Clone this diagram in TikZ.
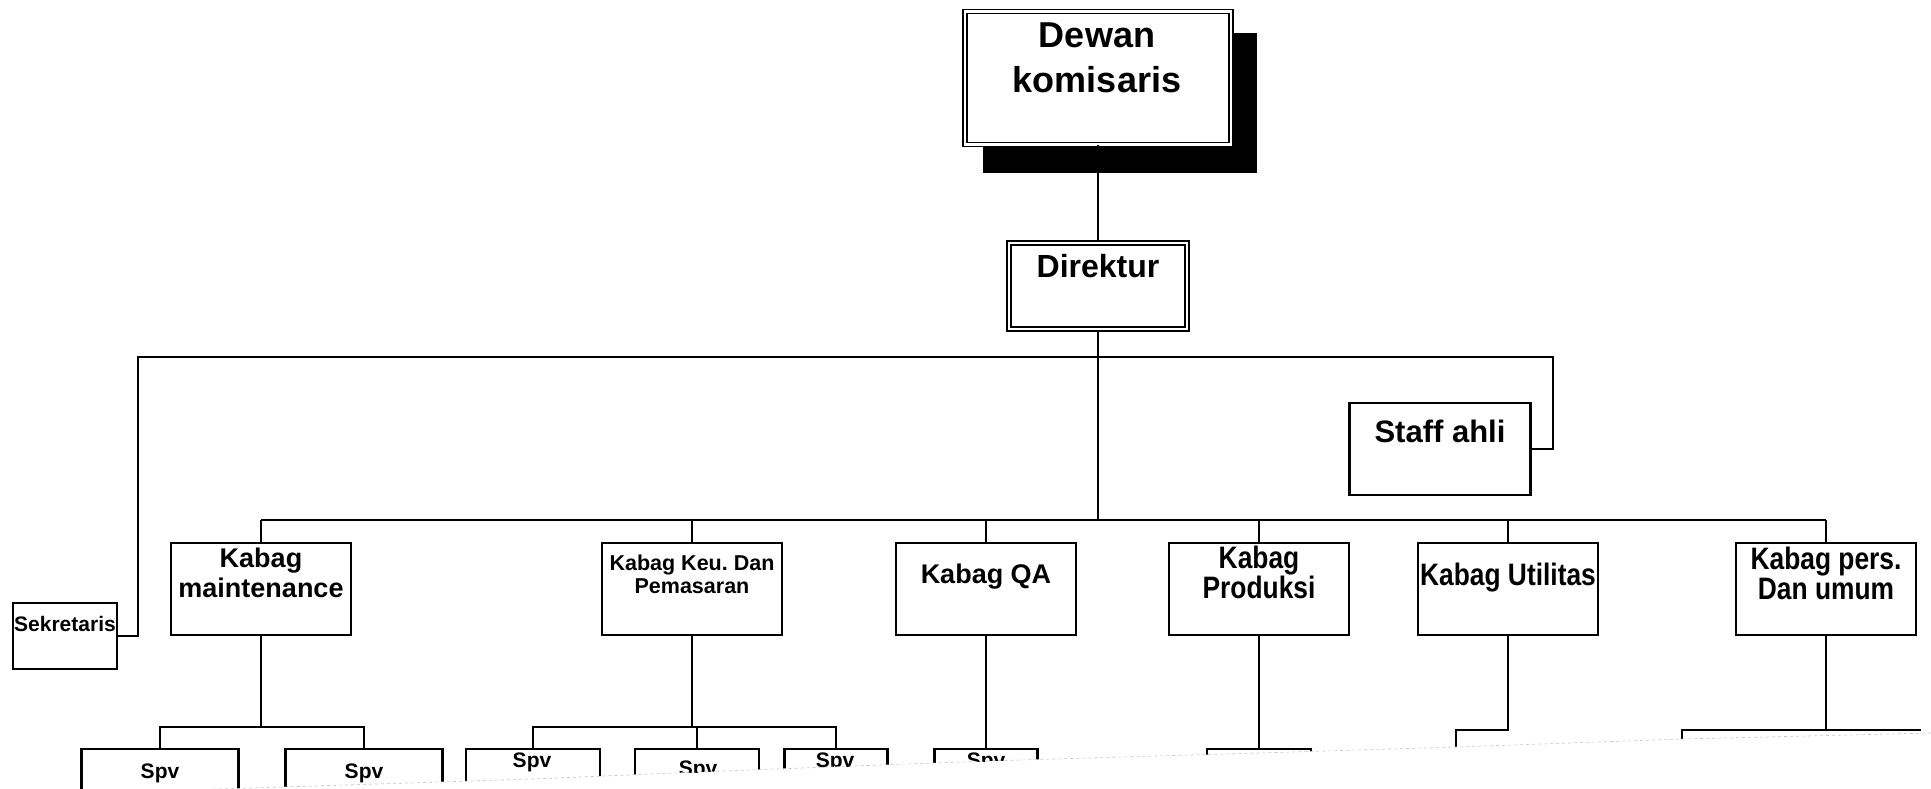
\documentclass[tikz,border=0pt]{standalone}
\usepackage{fontspec}
\setmainfont{Liberation Sans}
\newfontfamily\narrowsans[FakeStretch=0.85]{Liberation Sans}
\usetikzlibrary{calc,positioning}
\tikzset{Box/.style={draw,fill=white,line width=2.1pt,inner sep=0pt,minimum width=180pt,minimum height=92pt}}
\tikzset{Dbox/.style={draw,fill=white,double,double distance=2.5pt,line width=1.4pt,inner sep=0pt}}
\tikzset{Spv/.style={Box,minimum width=#1,minimum height=80pt}}
\tikzset{Txt/.style 2 args={anchor=north,inner sep=0pt,align=center,font=\bfseries\fontsize{#1}{#2}\selectfont}}
\tikzset{NTxt/.style 2 args={anchor=north,inner sep=0pt,align=center,font=\narrowsans\bfseries\fontsize{#1}{#2}\selectfont}}

\begin{document}
\begin{tikzpicture}[x=1pt,y=-1pt,line width=2.1pt]
            \useasboundingbox (0,0) rectangle (1931,789);
            \begin{scope}
            \clip (0,0) -- (1931,0) -- (1931,733) -- (1682,739) -- (1456,747) -- (1259,753) -- (986,761) -- (698,772) -- (533,779) -- (0,796) -- cycle;
            \node[fill=black,inner sep=0pt,minimum width=274pt,minimum height=140pt] (komsh) at (1120,103) {};
            \node[Dbox,minimum width=266pt,minimum height=133pt] (kom) at (1098,78) {};
            \node[Txt={36}{45}] (komt) at (1097,22) {Dewan\\komisaris};
            \node[Dbox,minimum width=178pt,minimum height=86pt] (dir) at (1098,286) {};
            \node[Txt={32}{36}] (dirt) at (1098,253) {Direktur};
            \node[Box,minimum width=104pt,minimum height=66pt] (sek) at (65,636) {};
            \node[Txt={21}{24}] (sekt) at (65,615) {Sekretaris};
            \node[Box,minimum width=181pt] (staf) at (1440,449) {};
            \node[Txt={31}{34}] (staft) at (1440,419) {Staff ahli};
            \coordinate (bl) at (138,357);
            \coordinate (br) at (1553,357);
            \coordinate (jk) at (1098,520);
            \draw[-] (kom.south) -- (dir.north);
            \draw[-] (dir.south) -- (jk);
            \draw[-] (sek.east) -| (bl) -- (br) |- (staf.east);
            \node[Box] (k1) at (261,589) {};
            \node[Box] (k2) at (692,589) {};
            \node[Box] (k3) at (986,589) {};
            \node[Box] (k4) at (1259,589) {};
            \node[Box] (k5) at (1508,589) {};
            \node[Box] (k6) at (1826,589) {};
            \node[Txt={27}{30}] (k1t) at (261,547) {Kabag\\maintenance};
            \node[Txt={21.5}{23}] (k2t) at (692,554) {Kabag Keu.\ Dan\\Pemasaran};
            \node[Txt={27}{30}] (k3t) at (986,563) {Kabag QA};
            \node[NTxt={31}{30}] (k4t) at (1259,545) {Kabag\\Produksi};
            \node[NTxt={31}{30}] (k5t) at (1508,562) {Kabag Utilitas};
            \node[NTxt={31}{30}] (k6t) at (1826,546) {Kabag pers.\\Dan umum};
            \draw[-] (k1.north |- jk) -- (k6.north |- jk);
            \draw[-] (k1.north |- jk) -- (k1.north);
            \draw[-] (k2.north |- jk) -- (k2.north);
            \draw[-] (k3.north |- jk) -- (k3.north);
            \draw[-] (k4.north |- jk) -- (k4.north);
            \draw[-] (k5.north |- jk) -- (k5.north);
            \draw[-] (k6.north |- jk) -- (k6.north);
            \node[Spv=157pt] (s11) at (160,789) {};
            \node[Spv=157pt] (s12) at (364,789) {};
            \node[Spv=134pt] (s21) at (533,789) {};
            \node[Spv=124pt] (s22) at (697,789) {};
            \node[Spv=103pt] (s23) at (836,789) {};
            \node[Spv=103pt] (s31) at (986,789) {};
            \node[Spv=104pt] (s41) at (1259,789) {};
            \node[Txt={21}{24}] (s11t) at (160,763) {Spv};
            \node[Txt={21}{24}] (s12t) at (364,763) {Spv};
            \node[Txt={21}{24}] (s21t) at (532,752) {Spv};
            \node[Txt={21}{24}] (s22t) at (698,760) {Spv};
            \node[Txt={21}{24}] (s23t) at (835,752) {Spv};
            \node[Txt={21}{24}] (s31t) at (986,752) {Spv};
            \coordinate (m1) at (261,727);
            \coordinate (m2) at (692,727);
            \coordinate (m5) at (1508,730);
            \coordinate (m6) at (1826,730);
            \coordinate (u1) at (1456,770);
            \coordinate (p1) at (1682,770);
            \coordinate (p2) at (1921,730);
            \draw[-] (k1.south) -- (m1);
            \draw[-] (s11.north) -- (s11.north |- m1) -- (s12.north |- m1) -- (s12.north);
            \draw[-] (k2.south) -- (m2);
            \draw[-] (s21.north) -- (s21.north |- m2) -- (s23.north |- m2) -- (s23.north);
            \draw[-] (s22.north) -- (s22.north |- m2);
            \draw[-] (k3.south) -- (s31.north);
            \draw[-] (k4.south) -- (s41.north);
            \draw[-] (k5.south) -- (m5) -| (u1);
            \draw[-] (k6.south) -- (m6);
            \draw[-] (p1) |- (p2);
            \end{scope}
            \draw[gray!45,dashed,line width=0.6pt] (1931,733) -- (1682,739) -- (1456,747) -- (1259,753) -- (986,761) -- (698,772) -- (533,779) -- (0,796);
        \end{tikzpicture}
\end{document}
